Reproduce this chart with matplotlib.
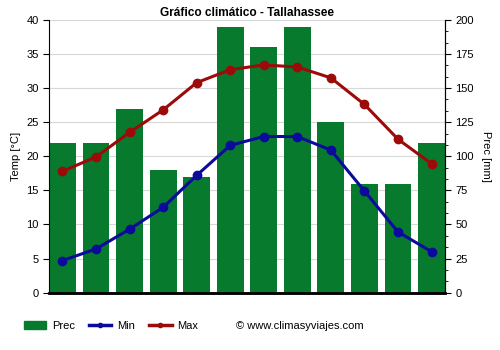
import numpy as np
import matplotlib.pyplot as plt
from matplotlib.lines import Line2D
from matplotlib.patches import Patch
from matplotlib.ticker import MultipleLocator

plt.rcParams['font.family'] = ['Liberation Sans', 'DejaVu Sans']
plt.rcParams['font.size'] = 8

meses = ["Ene", "Feb", "Mar", "Abr", "May", "Jun", "Jul", "Ago", "Sep", "Oct", "Nov", "Dic"]
prec = [110, 110, 135, 90, 85, 195, 180, 195, 125, 80, 80, 110]
t_min = [4.7, 6.4, 9.3, 12.5, 17.2, 21.6, 22.9, 22.9, 20.9, 14.9, 8.9, 6.0]
t_max = [17.8, 19.9, 23.5, 26.8, 30.8, 32.7, 33.4, 33.1, 31.5, 27.6, 22.5, 18.9]

verde = "#077a2e"
azul = "#0a0a9c"
rojo = "#9c0a0a"

x = np.arange(len(meses))

fig = plt.figure(figsize=(5, 3.5), dpi=100)
ax = fig.add_axes([0.098, 0.164, 0.792, 0.779])
ax2 = ax.twinx()

# precipitation bars live on the right axis, drawn underneath the temperatures
ax.set_zorder(ax2.get_zorder() + 1)
ax.patch.set_visible(False)
ax2.bar(x, prec, width=0.8, color=verde, zorder=2)
ax2.set_ylim(0, 200)
ax2.yaxis.set_major_locator(MultipleLocator(25))
ax2.yaxis.set_minor_locator(MultipleLocator(25 / 3))
ax2.set_ylabel("Prec [mm]", rotation=270, labelpad=12)

ax.plot(x, t_min, color=azul, lw=2.2, marker="o", ms=6, zorder=4)
ax.plot(x, t_max, color=rojo, lw=2.2, marker="o", ms=6, zorder=4)
ax.set_ylim(0, 40)
ax.set_xlim(-0.4, len(meses) - 0.6)
ax.yaxis.set_major_locator(MultipleLocator(5))
ax.set_ylabel("Temp [°C]", labelpad=4)

# month labels at the bar centres, ticks and grid at the bar edges
ax.set_xticks(x)
ax.set_xticklabels(meses)
ax.set_xticks(x - 0.4, minor=True)
ax.tick_params(axis="x", which="major", length=0, pad=6)
ax.tick_params(axis="x", which="minor", length=4)
ax2.set_xticks(x - 0.4)
ax2.tick_params(axis="x", length=0, labelbottom=False)
ax2.grid(axis="x", color="#d8d8d8", lw=0.8, zorder=0)
ax2.grid(axis="y", color="#d8d8d8", lw=0.8, zorder=0)
ax.tick_params(axis="y", length=4)
ax2.tick_params(axis="y", which="major", length=4)
ax2.tick_params(axis="y", which="minor", length=2.5)

for a in (ax, ax2):
    a.spines["top"].set_visible(False)
    a.spines["bottom"].set_linewidth(1.8)
ax2.spines["left"].set_visible(False)

ax.set_title("Gráfico climático - Tallahassee", fontweight="bold", fontsize=8.6, pad=3)

handles = [
    Patch(color=verde, label="Prec"),
    Line2D([], [], color=azul, lw=2.5, marker="o", ms=3, label="Min"),
    Line2D([], [], color=rojo, lw=2.5, marker="o", ms=3, label="Max"),
]
fig.legend(handles=handles, loc="center left", bbox_to_anchor=(0.048, 0.068), ncol=3,
           frameon=False, fontsize=8, borderpad=0, borderaxespad=0,
           handlelength=2.0, columnspacing=1.3, handletextpad=0.5)
fig.text(0.472, 0.068, "© www.climasyviajes.com", fontsize=8, va="center")

fig.savefig("out.png", dpi=100)
